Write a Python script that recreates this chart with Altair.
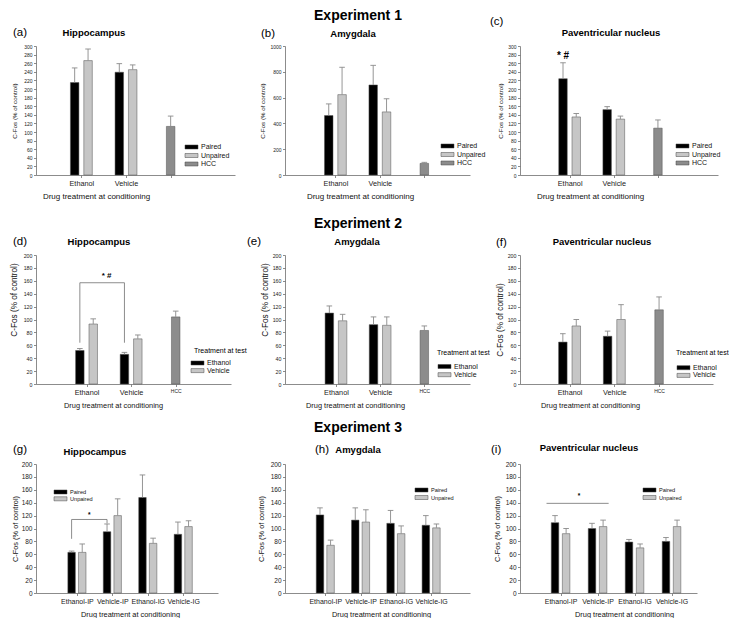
import json
import pandas as pd
import altair as alt

FONT = "Liberation Sans"

# ---------------- categories ----------------
EXP12_GROUPS = ["Ethanol", "Vehicle"]
EXP3_GROUPS = ["Ethanol-IP", "Vehicle-IP", "Ethanol-IG", "Vehicle-IG"]
COND_SERIES = ["Paired", "Unpaired"]
TEST_SERIES = ["Ethanol", "Vehicle"]
HCC = "HCC"

# ---------------- Experiment 1 ----------------
A_PAIRED = [215, 239]
A_PAIRED_ERR = [34, 20]
A_UNPAIRED = [266, 245]
A_UNPAIRED_ERR = [27, 11]
A_HCC = 113
A_HCC_ERR = 24

B_PAIRED = [461, 698]
B_PAIRED_ERR = [90, 152]
B_UNPAIRED = [623, 489]
B_UNPAIRED_ERR = [212, 102]
B_HCC = 90
B_HCC_ERR = 8

C_PAIRED = [224, 152]
C_PAIRED_ERR = [37, 7]
C_UNPAIRED = [135, 130]
C_UNPAIRED_ERR = [8, 7]
C_HCC = 109
C_HCC_ERR = 19
C_SIG_Y = 277

# ---------------- Experiment 2 ----------------
D_ETH = [52, 46]
D_ETH_ERR = [3, 3]
D_VEH = [93, 70]
D_VEH_ERR = [8, 6]
D_HCC = 104
D_HCC_ERR = 9
D_BRACKET = [64, 157]
D_SIG_Y = 167

E_ETH = [110, 92]
E_ETH_ERR = [11, 12]
E_VEH = [98, 91]
E_VEH_ERR = [10, 13]
E_HCC = 83
E_HCC_ERR = 7

F_ETH = [65, 74]
F_ETH_ERR = [13, 8]
F_VEH = [90, 100]
F_VEH_ERR = [10, 23]
F_HCC = 115
F_HCC_ERR = 20

# ---------------- Experiment 3 ----------------
G_PAIRED = [63, 95, 148, 91]
G_PAIRED_ERR = [2, 12, 35, 19]
G_UNPAIRED = [63, 120, 77, 103]
G_UNPAIRED_ERR = [13, 26, 8, 9]
G_BRACKET = [84, 114, 108]
G_SIG_Y = 121

H_PAIRED = [121, 113, 108, 105]
H_PAIRED_ERR = [11, 19, 20, 15]
H_UNPAIRED = [74, 110, 92, 101]
H_UNPAIRED_ERR = [8, 19, 12, 6]

I_PAIRED = [109, 100, 79, 80]
I_PAIRED_ERR = [11, 8, 4, 6]
I_UNPAIRED = [92, 103, 70, 103]
I_UNPAIRED_ERR = [8, 10, 6, 10]
I_LINE_Y = 139
I_SIG_Y = 150

Y_TICKS_300 = list(range(0, 301, 20))
Y_TICKS_1000 = list(range(0, 1001, 200))
Y_TICKS_200 = list(range(0, 201, 20))

# ---------------- styling ----------------
COL_DARK = "#000000"
COL_LIGHT = "#c6c6c6"
COL_HCC = "#8c8c8c"
ERR_COL = "#8a8a8a"
AX_COL = "#6e6e6e"
OFF = 0.15
PH = 129


def bar_frame(series, groups, vals, errs, hcc=None, hcc_err=None):
    rows = []
    for si, name in enumerate(series):
        shift = -OFF if si == 0 else OFF
        for gi in range(len(groups)):
            v = vals[si][gi]
            rows.append({"pos": gi + 1 + shift, "value": v,
                         "top": v + errs[si][gi], "series": name})
    if hcc is not None:
        rows.append({"pos": len(groups) + 1, "value": hcc,
                     "top": hcc + hcc_err, "series": HCC})
    return pd.DataFrame(rows)


def txt(text, x, y, size, weight="normal", align="center"):
    return alt.Chart(pd.DataFrame({"t": [text]})).mark_text(
        align=align, baseline="middle", fontSize=size, fontWeight=weight,
        font=FONT, color="#000000"
    ).encode(x=alt.value(x), y=alt.value(y), text="t:N")


def panel(df, series, labels, P, extra=()):
    w, h = P["w"], PH
    has_hcc = (df["series"] == HCC).any()
    dom = list(series) + ([HCC] if has_hcc else [])
    rng = [COL_DARK, COL_LIGHT] + ([COL_HCC] if has_hcc else [])
    fill_scale = alt.Scale(domain=dom, range=rng)

    lo = 1 - P["x1"] / P["ppu"]
    hi = 1 + (w - P["x1"]) / P["ppu"]
    n = len(labels)
    lab_size = P["xlab"]
    if P.get("hcc_lab"):
        lab_size = {"condition": {"test": f"datum.value == {n}", "value": P["hcc_lab"]},
                    "value": P["xlab"]}
    xax = alt.Axis(values=list(range(1, n + 1)),
                   labelExpr=f"{json.dumps(labels)}[round(datum.value) - 1]",
                   grid=False, labelAngle=0, labelFontSize=lab_size, labelPadding=1.5,
                   tickSize=2.5, labelFlush=False, labelOverlap=False,
                   title="Drug treatment at conditioning", titleFontSize=P["xtitle"],
                   titleFontWeight="normal", titleX=P["xtitle_x"], titleY=21,
                   titleAlign="center", titleBaseline="middle")
    yax = alt.Axis(values=P["yticks"], format="d", grid=False, labelFontSize=P["ylab"],
                   labelPadding=1.5, tickSize=2.5, labelFlush=False, labelOverlap=False,
                   labelSeparation=0,
                   title="C-Fos (% of control)", titleFontSize=P["ytitle"],
                   titleFontWeight="normal", titleX=P["ytitle_x"],
                   titleY=h / 2 + P.get("ytitle_shift", 0), titleAngle=-90,
                   titleAlign="center", titleBaseline="middle")

    xs = alt.Scale(domain=[lo, hi], nice=False, zero=False)
    ys = alt.Scale(domain=[0, P["ymax"]], nice=False)
    xe = alt.X("pos:Q", scale=xs, axis=xax)
    ye = alt.Y("value:Q", scale=ys, axis=yax)
    ye_top = alt.Y("top:Q", scale=ys, axis=yax)

    bars = alt.Chart(df).mark_bar(size=P["bw"], orient="vertical", stroke="#505050",
                                  strokeWidth=0.5).encode(
        x=xe, y=ye, fill=alt.Fill("series:N", scale=fill_scale, legend=None))
    err = alt.Chart(df).mark_rule(color=ERR_COL, strokeWidth=0.9).encode(
        x=xe, y=ye, y2="top:Q")
    cap = alt.Chart(df).mark_rule(color=ERR_COL, strokeWidth=0.9, xOffset=-2.8,
                                  x2Offset=2.8).encode(x=xe, x2="pos:Q", y=ye_top)

    layers = [bars, err, cap] + [f(xe, ye) for f in extra]
    layers.append(txt(P["tag"], P["tag_x"], P["tag_y"], 11.5, align="left"))
    layers.append(txt(P["title"], P["title_x"], P["title_y"], 9.5, weight="bold"))
    if P.get("exp"):
        layers.append(txt(P["exp"], P["exp_x"], P["exp_y"], 14, weight="bold"))
    lg = P["legend"]
    if lg.get("title"):
        layers.append(txt(lg["title"], lg["title_x"], lg["title_y"], lg["font"], align="left"))
    main = alt.layer(*layers)

    ldf = pd.DataFrame({"series": list(series)})
    ly = lg["y"]
    lys = alt.Y("series:N", scale=alt.Scale(type="point", domain=list(series),
                                            range=[ly, ly + lg["pitch"] * (len(series) - 1)],
                                            padding=0), axis=None)
    shape = "M-1,-0.31H1V0.31H-1Z"
    sw = alt.Chart(ldf).mark_point(shape=shape, size=169, filled=True, opacity=1,
                                   stroke="#444444", strokeWidth=0.5).encode(
        x=alt.value(lg["x"] + 6.5), y=lys,
        fill=alt.Fill("series:N", scale=fill_scale, legend=None))
    lt = alt.Chart(ldf).mark_text(align="left", baseline="middle", fontSize=lg["font"],
                                  font=FONT, color="#111111").encode(
        x=alt.value(lg["x"] + 16), y=lys, text="series:N")
    leg = alt.layer(sw, lt)
    return alt.layer(main, leg).resolve_scale(y="independent").properties(width=w, height=h)


def sig_text(pos, value, label, size):
    def make(xe, ye):
        d = pd.DataFrame({"pos": [pos], "value": [value], "lab": [label]})
        return alt.Chart(d).mark_text(fontSize=size, fontWeight="bold", font=FONT,
                                      baseline="middle", color="#000000").encode(
            x=xe, y=ye, text="lab:N")
    return make


def line_path(xs, ys):
    def make(xe, ye):
        d = pd.DataFrame({"pos": xs, "value": ys, "o": list(range(len(xs)))})
        return alt.Chart(d).mark_line(color="#707070", strokeWidth=0.8).encode(
            x=xe, y=ye, order="o:Q")
    return make


ROW1_X = EXP12_GROUPS + [""]
ROW2_X = EXP12_GROUPS + [HCC]
ROW3_X = EXP3_GROUPS

base1 = dict(ymax=300, yticks=Y_TICKS_300, ylab=5, ytitle=6.2, xlab=7.3, xtitle=8, bw=8.5)
base2 = dict(ymax=200, yticks=Y_TICKS_200, ylab=5.3, ytitle=8.2, xlab=7.3, xtitle=7.4, bw=8.5,
             hcc_lab=5)
base3 = dict(ymax=200, yticks=Y_TICKS_200, ylab=6.5, ytitle=7.4, xlab=7.0, xtitle=7.4, bw=7.5)

PA = dict(base1, w=199, x1=42.5, ppu=47, ytitle_x=-22, xtitle_x=60,
          tag="(a)", tag_x=-23, tag_y=-13, title="Hippocampus", title_x=58, title_y=-13,
          legend=dict(x=149, y=PH - 28, pitch=8.5, font=7))
PB = dict(base1, ymax=1000, yticks=Y_TICKS_1000, w=185, x1=48, ppu=47, ytitle_x=-23,
          xtitle_x=75, tag="(b)", tag_x=-24, tag_y=-12, title="Amygdala", title_x=68,
          title_y=-12, exp="Experiment 1", exp_x=73, exp_y=-30,
          legend=dict(x=156, y=PH - 29, pitch=8.5, font=7))
PC = dict(base1, w=198, x1=47, ppu=46.5, ytitle_x=-20, xtitle_x=70,
          tag="(c)", tag_x=-30, tag_y=-24, title="Paventricular nucleus", title_x=91,
          title_y=-13, legend=dict(x=156, y=PH - 29, pitch=8.5, font=7))

PD = dict(base2, w=195, x1=48, ppu=47, ytitle_x=-22, ytitle_shift=-20, xtitle_x=77,
          tag="(d)", tag_x=-23, tag_y=-13, title="Hippocampus", title_x=63, title_y=-13,
          legend=dict(x=155, y=PH - 21, pitch=7.6, font=7, title="Treatment at test",
                      title_x=158, title_y=PH - 33))
PE = dict(base2, w=185, x1=48.6, ppu=46.7, ytitle_x=-20, ytitle_shift=-20, xtitle_x=70,
          tag="(e)", tag_x=-38, tag_y=-13, title="Amygdala", title_x=72, title_y=-13,
          exp="Experiment 2", exp_x=73, exp_y=-31,
          legend=dict(x=153, y=PH - 17.5, pitch=8.2, font=7, title="Treatment at test",
                      title_x=152, title_y=PH - 31))
PF = dict(base2, w=193, x1=47, ppu=47.2, ytitle_x=-20, xtitle_x=70,
          tag="(f)", tag_x=-24, tag_y=-12, title="Paventricular nucleus", title_x=82,
          title_y=-13,
          legend=dict(x=157, y=PH - 16.3, pitch=7.7, font=7, title="Treatment at test",
                      title_x=156, title_y=PH - 31.5))

PG = dict(base3, w=182, x1=38, ppu=37.5, ytitle_x=-21, xtitle_x=94,
          tag="(g)", tag_x=-23, tag_y=-14, title="Hippocampus", title_x=59, title_y=-12,
          legend=dict(x=18, y=28, pitch=6.8, font=5.6))
PHh = dict(base3, w=185, x1=37.3, ppu=37.3, ytitle_x=-24, xtitle_x=96,
           tag="(h)", tag_x=30, tag_y=-14, title="Amygdala", title_x=73, title_y=-14,
           exp="Experiment 3", exp_x=73, exp_y=-36,
           legend=dict(x=130, y=26, pitch=7.5, font=5.6))
PI = dict(base3, w=177, x1=37.7, ppu=39.2, ytitle_x=-23, xtitle_x=104,
          tag="(i)", tag_x=-29, tag_y=-14, title="Paventricular nucleus", title_x=69,
          title_y=-16, legend=dict(x=123, y=26, pitch=7.5, font=5.6))

# ---------------- frames ----------------
dfa = bar_frame(COND_SERIES, EXP12_GROUPS, [A_PAIRED, A_UNPAIRED], [A_PAIRED_ERR, A_UNPAIRED_ERR], A_HCC, A_HCC_ERR)
dfb = bar_frame(COND_SERIES, EXP12_GROUPS, [B_PAIRED, B_UNPAIRED], [B_PAIRED_ERR, B_UNPAIRED_ERR], B_HCC, B_HCC_ERR)
dfc = bar_frame(COND_SERIES, EXP12_GROUPS, [C_PAIRED, C_UNPAIRED], [C_PAIRED_ERR, C_UNPAIRED_ERR], C_HCC, C_HCC_ERR)
dfd = bar_frame(TEST_SERIES, EXP12_GROUPS, [D_ETH, D_VEH], [D_ETH_ERR, D_VEH_ERR], D_HCC, D_HCC_ERR)
dfe = bar_frame(TEST_SERIES, EXP12_GROUPS, [E_ETH, E_VEH], [E_ETH_ERR, E_VEH_ERR], E_HCC, E_HCC_ERR)
dff = bar_frame(TEST_SERIES, EXP12_GROUPS, [F_ETH, F_VEH], [F_ETH_ERR, F_VEH_ERR], F_HCC, F_HCC_ERR)
dfg = bar_frame(COND_SERIES, EXP3_GROUPS, [G_PAIRED, G_UNPAIRED], [G_PAIRED_ERR, G_UNPAIRED_ERR])
dfh = bar_frame(COND_SERIES, EXP3_GROUPS, [H_PAIRED, H_UNPAIRED], [H_PAIRED_ERR, H_UNPAIRED_ERR])
dfi = bar_frame(COND_SERIES, EXP3_GROUPS, [I_PAIRED, I_UNPAIRED], [I_PAIRED_ERR, I_UNPAIRED_ERR])

# ---------------- annotations ----------------
ann_c = [sig_text(1 - OFF, C_SIG_Y, "*  #", 10)]
d1, d2 = 1 - OFF, 2 - OFF
ann_d = [line_path([d1, d1, d2, d2], [D_BRACKET[0], D_BRACKET[1], D_BRACKET[1], D_BRACKET[0]]),
         sig_text((d1 + d2) / 2 + 0.1, D_SIG_Y, "*  #", 8)]
g1, g2 = 1 - OFF, 2 - OFF
ann_g = [line_path([g1, g1, g2, g2], [G_BRACKET[0], G_BRACKET[1], G_BRACKET[1], G_BRACKET[2]]),
         sig_text((g1 + g2) / 2, G_SIG_Y, "*", 6.5)]
ann_i = [line_path([1 - 0.38, 2 + 0.3], [I_LINE_Y, I_LINE_Y]),
         sig_text(1.5, I_SIG_Y, "*", 6.5)]

panels = [
    panel(dfa, COND_SERIES + [HCC], ROW1_X, PA),
    panel(dfb, COND_SERIES + [HCC], ROW1_X, PB),
    panel(dfc, COND_SERIES + [HCC], ROW1_X, PC, ann_c),
    panel(dfd, TEST_SERIES, ROW2_X, PD, ann_d),
    panel(dfe, TEST_SERIES, ROW2_X, PE),
    panel(dff, TEST_SERIES, ROW2_X, PF),
    panel(dfg, COND_SERIES, ROW3_X, PG, ann_g),
    panel(dfh, COND_SERIES, ROW3_X, PHh),
    panel(dfi, COND_SERIES, ROW3_X, PI, ann_i),
]

chart = alt.concat(
    *panels, columns=3, spacing={"row": 80, "column": 50}, bounds="flush", align="each"
).resolve_scale(
    x="independent", y="independent", fill="independent"
).properties(
    padding={"top": 1, "bottom": 0, "left": 0, "right": 0}, background="white"
).configure_view(
    strokeWidth=0
).configure_axis(
    domainColor=AX_COL, tickColor=AX_COL, labelColor="#222222", titleColor="#111111",
    labelFont=FONT, titleFont=FONT, domainWidth=0.8, tickWidth=0.8, labelOverlap=False
).configure_text(font=FONT)

chart.save("out.html", embed_options={"renderer": "svg", "actions": False})
